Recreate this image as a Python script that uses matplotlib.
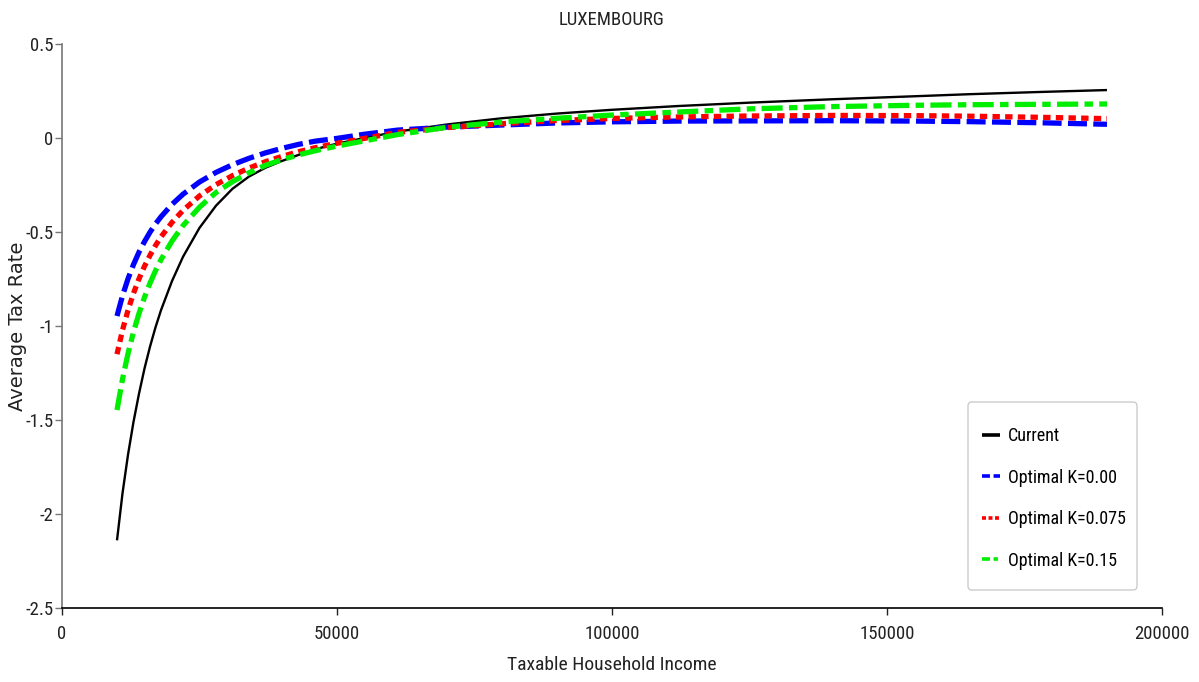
import matplotlib
matplotlib.use("Agg")
import matplotlib.pyplot as plt
from matplotlib import font_manager
from matplotlib.lines import Line2D
from matplotlib.patches import FancyBboxPatch

# Income grid (shared by all four schedules) and average tax rates
income = [10000, 11000, 12000, 13000, 14000, 15000, 16000, 17000, 18000,
          20000, 22000, 25000, 28000, 31000, 34000, 37000, 40000, 43000,
          46000, 50000, 55000, 61000, 70000, 80000, 90000, 100000, 112000,
          125000, 140000, 155000, 165000, 178000, 190000]

current = [-2.14, -1.89, -1.685, -1.51, -1.36, -1.226, -1.11, -1.007, -0.916,
           -0.761, -0.632, -0.478, -0.36, -0.27, -0.205, -0.158, -0.122, -0.09,
           -0.06, -0.03, 0.0, 0.034, 0.072, 0.105, 0.13, 0.15, 0.17,
           0.188, 0.206, 0.222, 0.233, 0.245, 0.255]

opt_k000 = [-0.947, -0.839, -0.749, -0.673, -0.607, -0.551, -0.501, -0.457, -0.419,
            -0.353, -0.299, -0.234, -0.183, -0.142, -0.108, -0.079, -0.055, -0.034,
            -0.017, -0.002, 0.02, 0.042, 0.058, 0.069, 0.08, 0.086, 0.09,
            0.091, 0.092, 0.09, 0.087, 0.081, 0.073]

opt_k075 = [-1.15, -1.022, -0.916, -0.826, -0.749, -0.682, -0.624, -0.572, -0.526,
            -0.449, -0.385, -0.308, -0.248, -0.2, -0.16, -0.126, -0.098, -0.073,
            -0.052, -0.028, -0.002, 0.03, 0.055, 0.076, 0.093, 0.104, 0.112,
            0.117, 0.12, 0.119, 0.116, 0.11, 0.103]

opt_k150 = [-1.447, -1.283, -1.147, -1.032, -0.933, -0.847, -0.772, -0.706, -0.647,
            -0.548, -0.466, -0.368, -0.29, -0.232, -0.185, -0.145, -0.115, -0.09,
            -0.068, -0.043, -0.015, 0.018, 0.057, 0.085, 0.105, 0.122, 0.138,
            0.155, 0.167, 0.174, 0.177, 0.179, 0.181]

series_labels = ["Current", "Optimal K=0.00", "Optimal K=0.075", "Optimal K=0.15"]
series_colors = ["black", "#0000ff", "#ff0000", "#00ee00"]

x_ticks = [0, 50000, 100000, 150000, 200000]
y_ticks = [0.5, 0, -0.5, -1, -1.5, -2, -2.5]
y_tick_labels = ["0.5", "0", "-0.5", "-1", "-1.5", "-2", "-2.5"]


def narrow_font():
    """Pick an installed condensed/narrow sans face, if any."""
    entries = font_manager.fontManager.ttflist
    prefs = ["Liberation Sans Narrow", "Roboto Condensed", "Open Sans Condensed",
             "Noto Sans", "DejaVu Sans", "Roboto", "Open Sans"]
    for fam in prefs:
        for f in entries:
            if f.name != fam:
                continue
            narrowish = ("condensed" in str(f.stretch).lower()
                         or "Condensed" in f.fname or "Narrow" in f.fname
                         or "Narrow" in f.name or "Condensed" in f.name)
            if narrowish and f.style == "normal" and f.weight in (400, "normal", "regular"):
                return font_manager.FontProperties(fname=f.fname)
    for fam in prefs:
        for f in entries:
            if f.name == fam and ("Condensed" in f.fname or "Narrow" in f.fname) \
                    and "Italic" not in f.fname and "Bold" not in f.fname:
                return font_manager.FontProperties(fname=f.fname)
    return None


fp_narrow = narrow_font()
if fp_narrow is None:
    fp_narrow = font_manager.FontProperties(family="DejaVu Sans")
plt.rcParams["font.family"] = ["DejaVu Sans"]


def nfont(size):
    p = fp_narrow.copy()
    p.set_size(size)
    return p


W, H = 1199, 682
fig = plt.figure(figsize=(W / 100, H / 100), dpi=100)
ax = fig.add_axes([62 / W, 1 - 608 / H, 1100 / W, 564 / H])

ax.plot(income, current, color=series_colors[0], lw=1.7, solid_capstyle="butt")
ax.plot(income, opt_k000, color=series_colors[1], lw=3.8, dashes=(3.6, 1.2),
        dash_capstyle="butt")
ax.plot(income, opt_k075, color=series_colors[2], lw=3.8, dashes=(1.4, 1.0),
        dash_capstyle="butt")
ax.plot(income, opt_k150, color=series_colors[3], lw=3.8,
        dashes=(4.0, 1.2, 1.6, 1.2), dash_capstyle="butt")

ax.set_xlim(0, 200000)
ax.set_ylim(-2.5, 0.5)
ax.set_xticks(x_ticks)
ax.set_xticklabels([str(v) for v in x_ticks], fontproperties=nfont(13.5))
ax.set_yticks(y_ticks)
ax.set_yticklabels(y_tick_labels, fontproperties=nfont(13.5))

for side in ("top", "right"):
    ax.spines[side].set_visible(False)
ax.spines["left"].set_color("#777777")
ax.spines["left"].set_linewidth(1.2)
ax.spines["bottom"].set_color("black")
ax.spines["bottom"].set_linewidth(1.2)
ax.tick_params(axis="both", direction="out", length=5, width=1,
               colors="#222222")
ax.tick_params(axis="x", pad=7)
ax.tick_params(axis="y", pad=1, color="#777777")

ax.set_title("LUXEMBOURG", fontproperties=nfont(13.5), pad=14, color="#222222")
ax.set_xlabel("Taxable Household Income", fontproperties=nfont(14),
              color="#222222")
ax.xaxis.set_label_coords(0.5, -0.085)
ax.set_ylabel("Average Tax Rate", fontsize=14, family="DejaVu Sans",
              color="#222222")
ax.yaxis.set_label_coords(-35 / 1100, 0.5)

# Legend frame drawn in pixel space, entries placed on top of it
frame = FancyBboxPatch((968, H - 590), 169, 188,
                       boxstyle="round,pad=0,rounding_size=4",
                       transform=None, facecolor="white",
                       edgecolor="#cccccc", linewidth=1.0, zorder=4,
                       clip_on=False)
ax.add_artist(frame)

handle_dashes = [None, (2.2, 1.0), (1.1, 0.7), (2.2, 1.0, 1.2, 1.0)]
handles = []
for lab, col, dsh in zip(series_labels, series_colors, handle_dashes):
    h = Line2D([], [], color=col, lw=2.6, label=lab, dash_capstyle="butt",
               solid_capstyle="butt")
    if dsh is not None:
        h.set_dashes(dsh)
    handles.append(h)

leg = ax.legend(handles=handles, loc="center left",
                bbox_to_anchor=(982 / W, 1 - 498.5 / H),
                bbox_transform=fig.transFigure, prop=nfont(13), frameon=False,
                handlelength=1.0, labelspacing=1.3, borderpad=0.0,
                handletextpad=0.45, borderaxespad=0)
leg.set_zorder(6)

fig.savefig("out.png", dpi=100)
